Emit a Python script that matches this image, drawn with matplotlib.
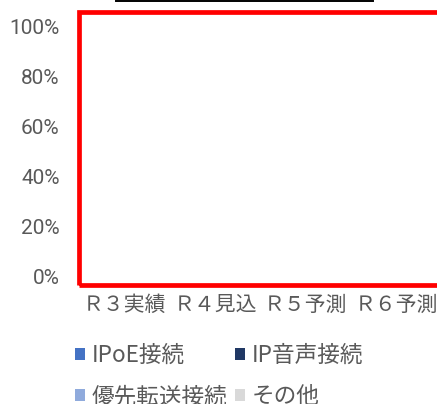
import matplotlib
matplotlib.use("Agg")
import matplotlib.pyplot as plt
from matplotlib.patches import Rectangle
from matplotlib.lines import Line2D
from matplotlib.ticker import PercentFormatter
import numpy as np

categories = ["Ｒ３実績", "Ｒ４見込", "Ｒ５予測", "Ｒ６予測"]
series_names = ["IPoE接続", "IP音声接続", "優先転送接続", "その他"]
ipoe = [0, 0, 0, 0]
ip_voice = [0, 0, 0, 0]
priority = [0, 0, 0, 0]
other = [0, 0, 0, 0]
colors = ["#4472C4", "#203864", "#8FAADC", "#D9D9D9"]
yticks = [0, 0.2, 0.4, 0.6, 0.8, 1.0]

cjk = ["Noto Sans CJK JP", "DejaVu Sans"]
txt = "#595959"

W, H = 437, 404
fig = plt.figure(figsize=(W / 100, H / 100), dpi=100)
ax = fig.add_axes([79.7 / W, 1 - 276.7 / H, 362 / W, 250 / H])

x = np.arange(len(categories))
bottom = np.zeros(len(categories))
handles = []
for name, vals, c in zip(series_names, [ipoe, ip_voice, priority, other], colors):
    b = ax.bar(x, vals, 0.55, bottom=bottom, color=c, label=name)
    handles.append(b)
    bottom += np.array(vals)

ax.set_xlim(-0.5, len(categories) - 0.5)
ax.set_ylim(0, 1.0)
ax.set_yticks(yticks)
ax.yaxis.set_major_formatter(PercentFormatter(1.0, decimals=0))
for s in ax.spines.values():
    s.set_visible(False)
ax.tick_params(axis="y", length=0, pad=14.5, labelcolor=txt)
ax.tick_params(axis="x", length=0, pad=12.5, labelcolor=txt)
for lab in ax.get_yticklabels():
    lab.set_fontfamily("Roboto")
    lab.set_fontsize(15)
ax.set_xticks(x)
ax.set_xticklabels(categories, fontfamily=cjk, fontsize=15)

order = [0, 2, 1, 3]
leg = fig.legend([handles[i] for i in order], [series_names[i] for i in order],
                 loc="upper left", bbox_to_anchor=(75 / W, 1 - 344 / H), ncol=2,
                 frameon=False, prop={"family": cjk, "size": 16.3},
                 handlelength=0.45, handleheight=0.45, handletextpad=0.3,
                 columnspacing=0.3, labelspacing=0.8, borderpad=0, borderaxespad=0)
for t in leg.get_texts():
    t.set_color(txt)

# red highlight frame and top title-box edge
fig.add_artist(Rectangle((78.5 / W, 1 - 284.8 / H), 420 / W, 273 / H, transform=fig.transFigure,
                         fill=False, edgecolor="#FF0000", linewidth=3.4, clip_on=False))
fig.add_artist(Line2D([116.5 / W, 372.5 / W], [1 - 1 / H, 1 - 1 / H], transform=fig.transFigure,
                      color="black", linewidth=1.4))

fig.savefig("out.png", dpi=100)
